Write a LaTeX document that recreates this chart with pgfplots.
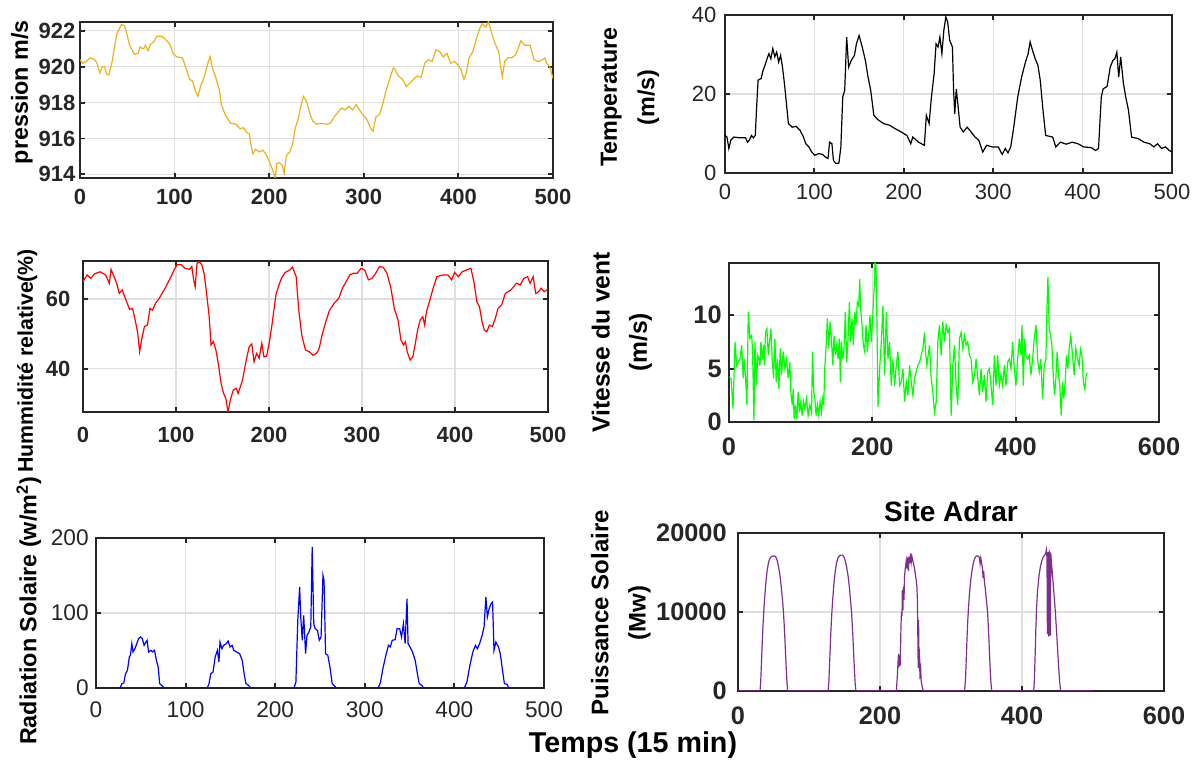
\documentclass[border=0pt]{standalone}
\usepackage{pgfplots}
\pgfplotsset{compat=1.18}
\usepackage{fontspec}
\setmainfont{Liberation Sans}

\definecolor{axc}{RGB}{38,38,38}
\definecolor{gridc}{RGB}{223,223,223}
\definecolor{morange}{RGB}{237,177,32}
\definecolor{mpurple}{RGB}{126,47,142}
\definecolor{mgreen}{RGB}{0,255,0}
\definecolor{mblue}{RGB}{0,0,255}
\definecolor{mred}{RGB}{255,0,0}

\newcommand{\tickfont}{\fontsize{16.5}{18}\selectfont}
\newcommand{\bigtickfont}{\fontsize{19}{21}\selectfont}
\newcommand{\labfont}{\fontsize{17.5}{28}\selectfont\bfseries}

\pgfplotsset{
  mat/.style={
    scale only axis, anchor=south west,
    axis line style={draw=axc, line width=1.4pt},
    grid=major, major grid style={draw=gridc, line width=0.8pt},
    tick align=inside, major tick length=4pt,
    every tick/.style={draw=axc, line width=1.4pt},
    tick label style={font=\tickfont\bfseries, text=axc},
    xticklabel style={yshift=-5pt},
    /pgf/number format/assume math mode=true,
    /pgf/number format/set thousands separator={},
    scaled ticks=false,
    label style={font=\labfont},
    ylabel style={anchor=center, align=center},
    every axis plot/.append style={line width=0.9pt, mark=none},
    enlargelimits=false,
  }
}

\begin{document}
\begin{tikzpicture}
\path[use as bounding box] (0,0) rectangle (900pt,571.5pt);

% pression
\begin{axis}[mat, at={(60pt,438pt)}, width=354.75pt, height=117pt,
  xmin=0, xmax=500, ymin=913.8, ymax=922.5,
  xtick={0,100,...,500}, ytick={914,916,918,920,922},
  ylabel={pression m/s},
  ylabel style={at={(axis description cs:-0.123,0.55)}}]
\addplot[morange] coordinates {(0,920.4)(2.7,920.2)(6.6,920.3)(10.6,920.5)(15.6,920.4)(18,920.2)(21,919.65)(23.5,920.0)(26,920.0)(28,919.6)(30.5,919.55)(34,920.3)(36.8,921.2)(39,921.85)(43.8,922.35)(47,922.3)(49.7,921.8)(52.4,921.2)(57.5,920.7)(61.4,920.75)(63.3,921.1)(67.3,921.0)(69.2,921.2)(72,920.9)(74.3,921.25)(78.2,921.4)(81,921.7)(86.8,921.7)(90.7,921.5)(94.6,921.3)(98.5,920.75)(102.4,920.55)(108.3,920.5)(112.2,919.9)(116,919.3)(118.9,919.2)(122,918.65)(124.7,918.35)(127.9,919.0)(129.8,919.2)(133,919.75)(135.7,920.3)(137.6,920.57)(139.6,920.0)(143.5,919.4)(147.4,918.7)(149.4,917.9)(153.3,917.35)(159.1,916.85)(165,916.8)(169,916.55)(172.8,916.6)(176,916.35)(179,916.25)(180.6,915.7)(182.6,915.15)(185.7,915.4)(189.6,915.25)(193.2,915.35)(196.3,915.15)(199.4,914.8)(202.5,914.4)(204.9,914.05)(206.4,913.8)(208,914.6)(211,914.65)(213.9,914.5)(215.8,914.05)(218.2,915.05)(221.7,915.25)(224.8,915.7)(227.6,916.6)(230.7,917.1)(233.4,917.8)(236.2,918.35)(239.3,918.1)(243.2,917.35)(246.3,916.95)(250.2,916.8)(254.9,916.85)(260.8,916.8)(264.7,916.85)(268.6,917.2)(272.5,917.45)(276.5,917.7)(280.4,917.6)(284.3,917.8)(288.2,917.6)(292.1,917.9)(296,917.55)(299.9,917.25)(303,917.1)(307,916.6)(309.7,916.4)(312.8,917.2)(316.7,917.35)(319.4,917.8)(323.4,918.65)(327.3,919.3)(331.2,919.95)(333.1,919.85)(336.3,919.5)(341,919.3)(344.9,918.9)(348.8,919.1)(352.7,919.3)(356.6,919.5)(360.5,919.4)(364.4,920.2)(368.3,920.4)(372.2,920.3)(376.2,920.95)(380.1,920.85)(384,920.55)(387.9,920.75)(391.8,920.2)(395.7,920.3)(399.6,920.1)(402.7,919.85)(405.9,919.3)(408.2,919.65)(411.3,920.5)(415.3,920.85)(419.2,921.6)(422.3,922.1)(425,922.4)(428.9,922.2)(431.7,922.5)(434.8,921.95)(438.7,921.3)(442.6,920.85)(445,919.9)(446.5,919.45)(448.9,920.3)(452.4,920.5)(456.3,920.5)(460.2,920.65)(463,921.0)(466.1,921.45)(470,921.2)(475.8,921.2)(479.8,920.4)(483.7,920.3)(487.6,920.35)(491.5,920.5)(493.4,920.2)(496.6,920.0)(500,919.35)};
\end{axis}

% temperature
\begin{axis}[mat, at={(543.75pt,441.75pt)}, width=335.25pt, height=118.5pt,
  xmin=0, xmax=500, ymin=0, ymax=40,
  xtick={0,100,...,500}, ytick={0,20,40},
  tick label style={font=\tickfont, text=axc},
  yticklabel style={xshift=-3pt},
  ylabel={Temperature\\(m/s)},
  ylabel style={at={(axis description cs:-0.2125,0.48)}}]
\addplot[black] coordinates {(0,9.5)(2.2,9.1)(4.3,6.2)(6.5,8.3)(10,9.1)(16.5,8.9)(23,8.9)(25.2,7.8)(27.4,8.4)(29.6,9.5)(31.7,8.9)(33.9,9.5)(35.2,15.9)(37,23.5)(40.4,23.9)(42.6,26)(44.8,27.3)(47,28.9)(49.1,30.2)(51.3,28.9)(53.5,31.5)(55.7,29.4)(57.8,30.6)(60,28.1)(62.2,29.8)(64.3,26.8)(66.5,22.6)(68.7,17.6)(70.9,12.5)(75.2,11.6)(79.6,11.8)(83.9,10.8)(87.4,9.3)(90.4,7.4)(93.9,6.6)(97,5.3)(100.4,4.5)(104.8,4.9)(109.1,4.7)(112.2,4.05)(115.2,3.7)(117,7.8)(119.6,7.4)(121.3,3.2)(123.9,2.4)(127.4,2.5)(129.6,6.6)(131.7,19.2)(133.9,20.9)(136.1,34.4)(138.3,26.8)(141.3,28.5)(144.8,29.8)(147,32.7)(150,34.8)(153.5,31.9)(157,28.5)(160,24.3)(163,20.9)(166.5,14.6)(170.9,13.5)(177.4,12.5)(183.9,12.1)(190.4,11.2)(197,10.4)(203.5,9.5)(207.8,7.4)(210,9.1)(216.5,7.8)(223,7.0)(225.2,14.6)(228.3,12.5)(230.9,19.2)(233.9,25.1)(236.1,32.7)(238.3,31.9)(240.4,34.4)(242.6,30.2)(244.8,36.1)(247,39.5)(249.1,38.2)(251.3,33.6)(254.4,31.9)(255.7,20.9)(257,15.0)(258.7,21.3)(260.4,17.6)(263,11.6)(266.5,10.4)(270.9,11.6)(275.2,10.4)(279.6,9.1)(283.9,8.3)(288.3,5.3)(292.6,7.0)(299.1,6.6)(305.7,6.6)(310,4.7)(313.5,6.2)(316.5,5.1)(319.6,6.6)(323,11.6)(327.4,19.2)(331.8,24.3)(336.1,28.1)(339.1,30.2)(341.3,33.2)(343.9,31.1)(347,28.9)(350,27.3)(352.6,23.5)(355.7,15.9)(358.7,9.5)(366.5,9.1)(370,6.6)(375.2,7.8)(381.7,7.3)(388.3,7.8)(394.8,7.4)(401.3,6.6)(410,6.4)(414.4,5.7)(417.8,6.2)(420.9,19.2)(423,21.3)(427.4,21.9)(430.9,26.8)(433.9,28.5)(436.1,28.9)(438.3,30.6)(440.4,24.3)(442.6,29.4)(445.7,22.6)(448.3,19.2)(451.3,15.9)(454.8,9.1)(462.2,8.7)(468.7,7.8)(475.2,7.4)(479.6,6.6)(483.9,7.4)(488.3,6.2)(492.6,6.6)(497,5.7)(500,5.3)};
\end{axis}

% humidite
\begin{axis}[mat, at={(62.25pt,262.5pt)}, width=348.75pt, height=113.25pt,
  xmin=0, xmax=500, ymin=27.6, ymax=70.9,
  xtick={0,100,...,500}, ytick={40,60},
  xticklabel style={yshift=-3pt},
  yticklabel style={xshift=-6pt},
  ylabel={Hummidité relative(\%)},
  ylabel style={font=\fontsize{16}{20}\selectfont\bfseries, at={(axis description cs:-0.12,0.338)}}]
\addplot[mred] coordinates {(0,65)(4.4,66.9)(8.4,65.9)(12.3,67.2)(18.3,67.8)(24.3,66.9)(28.3,64.5)(30.2,68.5)(33.4,66.4)(36.2,64.5)(39,61.6)(42.2,62.6)(46.2,59.7)(50.1,57.0)(53.3,57.3)(56.1,54.0)(58.9,50.1)(60.9,44.9)(63.3,48.7)(66.1,52.1)(69.3,52.5)(72,57.3)(74.8,56.8)(78,58.8)(82,60.2)(86,62.1)(89.2,63.5)(91.9,65)(94.7,66.4)(97.9,68.3)(101.1,69.8)(105.9,69.8)(109.8,68.8)(114.6,68.5)(117,69.3)(119,65.5)(120.6,63.5)(122.6,70.2)(125,70.7)(127.8,69.8)(130.5,66.9)(132.9,61.6)(135.7,54.9)(137.7,46.8)(140.1,47.8)(142.9,45.4)(145.7,41.1)(148.5,35.8)(151.2,32.9)(153.6,31.5)(156,27.6)(158.4,31.0)(161.6,33.9)(164.8,34.4)(166.8,32.9)(171.5,36.7)(175.5,42.5)(178.7,46.3)(181.5,47.1)(183.9,42.0)(186.7,44.4)(189.4,43.0)(192.2,47.3)(194.6,43.4)(197.4,43.6)(200.2,47.3)(203.4,53.0)(207.4,61.1)(210.1,63.5)(213.3,65.9)(217.3,67.6)(222.1,68.3)(225.3,69.1)(229.2,66.4)(232,56.8)(235.2,49.7)(239.2,45.4)(243.2,44.9)(247.2,43.9)(251.1,44.4)(253.9,45.8)(257.1,49.7)(261.1,53.5)(265.1,56.8)(270.2,58.8)(275,60.2)(279,63.1)(283,65)(286.9,66.9)(290.9,67.4)(294.9,67.4)(298.9,68.8)(302.9,68.3)(306.9,65.5)(310.8,65.9)(314.8,67.4)(318.8,69.3)(322.8,69.1)(326.8,67.4)(330.8,63.5)(334.7,57.3)(338.7,54.0)(341.9,48.2)(344.7,46.8)(346.7,47.7)(348.6,44.9)(351.8,42.5)(354.6,43.4)(357.4,47.3)(359.8,51.1)(362.6,54.0)(365.4,54.9)(367.4,52.5)(369.3,56.4)(372.5,59.2)(376.5,63.1)(380.5,66.4)(386.5,66.9)(392.4,66.9)(396.4,65.5)(399.6,67.6)(403.6,66.4)(407.6,67.8)(412.3,68.3)(417.1,68.8)(420.3,65)(423.5,59.2)(426.3,57.8)(429.1,53.5)(431.5,51.1)(434.2,50.6)(437,52.5)(440.2,52.1)(443.4,54.5)(446.2,57.3)(450.2,58.3)(454.1,61.6)(460.1,62.6)(466.1,64.5)(470.1,64)(474,65.9)(478,66.4)(480.8,64.5)(484,66.4)(486.8,61.6)(490,62.1)(492.7,63.1)(495.9,62.1)(500,62.8)};
\end{axis}

% vent
\begin{axis}[mat, at={(546.75pt,255pt)}, width=322.5pt, height=119.25pt,
  xmin=0, xmax=600, ymin=0, ymax=14.9,
  xtick={0,200,400,600}, ytick={0,5,10},
  tick label style={font=\bigtickfont\bfseries},
  xticklabel style={yshift=-3pt},
  yticklabel style={xshift=-2pt},
  ylabel={Vitesse du vent\\(m/s)},
  ylabel style={font=\fontsize{18.5}{28}\selectfont\bfseries, at={(axis description cs:-0.249,0.5)}}]
\addplot[mgreen] coordinates {(0,4.2)(2.8,4.1)(5.6,1.25)(8.4,7.5)(10.7,5.3)(13,5.6)(15.3,5.9)(17.6,7.2)(19.9,4.1)(21.3,5.9)(23.2,4.1)(25,1.6)(26.9,10.3)(29.2,7.8)(31.6,8.1)(32.9,6.6)(34.8,0.15)(36.2,7.5)(38.5,3.4)(39.9,6.25)(41.8,5.9)(43.2,5.3)(44.5,7.5)(46.4,5.9)(48.3,7.2)(49.2,5.3)(51,8.4)(52.9,8.75)(54.8,6.25)(56.6,7.5)(58.5,8.75)(60.3,5.9)(62.2,4.1)(64,7.8)(65.9,3.75)(67.7,5.9)(69.6,3.1)(71.5,6.9)(73.3,4.4)(75.6,6.6)(78,5)(80.3,5.9)(82.6,4.1)(84.9,5.6)(86.3,2.8)(88.2,1.6)(89.6,3.1)(90.9,0.3)(92.8,1.6)(94.7,0.3)(96.5,2.8)(98.4,0.9)(100.2,1.9)(102.1,0.6)(103.9,1.9)(105.8,1.25)(108.1,2.2)(110.4,0.6)(112.8,1.6)(115.1,0.9)(116.5,6.6)(118.3,2.8)(119.7,2.2)(121.6,0.6)(123.4,1.6)(125.3,0.6)(127.1,1.9)(129,0.9)(130.8,2.2)(132.2,1.6)(133.6,5)(135.5,7.2)(137.3,9.7)(139.2,6.9)(141,9.4)(142.9,7.8)(144.8,5.3)(146.6,8.1)(148.5,6.25)(150.3,7.2)(152.2,5.9)(154,7.8)(155.4,3.75)(156.8,7.5)(158.7,5.9)(160.5,6.9)(162.4,10.3)(164.2,5.6)(166.1,7.8)(168,11.25)(169.8,7.5)(171.7,9.7)(173.5,7.2)(175.4,10.3)(177.2,9.1)(179.1,11.25)(181,10.9)(182.4,13.4)(183.7,10.6)(185.6,9.1)(187.5,7.2)(189.3,6.6)(191.2,9.1)(193,6.6)(194.9,8.1)(196.7,10)(198.6,7.5)(200.4,9.7)(202.3,12.2)(203.7,14.9)(205.1,14.7)(206.5,9.1)(207.9,1.4)(210.2,5)(212.5,7.5)(214.8,10.9)(217.1,4.4)(219.5,10.3)(221.8,5.9)(224.1,7.5)(226.4,3.4)(228.7,5.9)(231,3.4)(233.4,5.3)(235.7,6.6)(238,3.4)(240.3,3.75)(242.7,5)(245,1.9)(247.3,3.75)(249.6,2.5)(252,5.3)(254.3,3.75)(256.6,2.5)(258.9,4.1)(261.2,4.7)(263.5,5.3)(265.9,5.6)(268.2,6.25)(270.5,6.9)(272.8,8.4)(274.2,6.6)(276.1,5.3)(277.9,6.25)(279.8,7.2)(282.1,4.1)(284.4,2.8)(286.7,0.9)(289.1,1.9)(291.4,7.5)(293.7,9.1)(296,6.25)(298.3,9.4)(300.7,7.5)(303,9.1)(305.3,8.4)(307.6,8.75)(310,0.6)(312.3,5.3)(314.6,7.2)(316.9,3.4)(319.2,1.6)(321.5,7.8)(323.9,8.4)(326.2,6.9)(328.5,8.1)(330.8,7.2)(333.1,7.5)(335.5,6.25)(337.8,5.9)(340.1,3.75)(342.4,4.4)(344.8,5.9)(347.1,4.1)(349.4,2.5)(351.7,5)(354,2.8)(356.3,4.4)(358.7,1.9)(361,4.7)(363.3,5)(365.6,3.4)(368,1.6)(370.3,6.25)(372.6,3.4)(374.9,6.25)(377.2,3.4)(379.5,4.4)(381.9,3.4)(384.2,5.3)(386.5,3.4)(388.8,5.6)(391.1,5.9)(393.5,5)(395.8,7.5)(398.1,5)(400.4,3.4)(402.7,5.9)(405.1,7.8)(407.4,6.25)(408.8,9.1)(410.6,3.4)(412.5,7.8)(414.3,6.25)(416.7,5.9)(419,6.25)(421.3,4.4)(423.6,5.9)(425.9,7.8)(428.3,9.1)(430.6,5.9)(432.9,4.7)(435.2,5.9)(437.5,2.2)(439.9,5.3)(442.2,5.9)(443.6,10.3)(445,13.6)(446.8,8.75)(448.7,8.1)(450.5,7.2)(452.4,4.4)(454.2,2.5)(456.1,4.1)(457.9,6.6)(459.8,4.4)(461.7,3.4)(463.5,0.6)(465.4,3.75)(467.2,2.2)(469.1,3.75)(470.9,6.25)(472.8,5)(474.7,6.9)(477,8.1)(479.3,6.25)(481.6,4.4)(483.9,6.9)(486.3,5.9)(488.6,5.3)(490.5,6.8)(492.5,6.2)(494.5,3.7)(496.5,3.1)(498.5,4.4)(500,4.6)};
\end{axis}

% radiation
\begin{axis}[mat, at={(72pt,55.5pt)}, width=336pt, height=112.5pt,
  xmin=0, xmax=500, ymin=0, ymax=200,
  xtick={0,100,...,500}, ytick={0,100,200},
  tick label style={font=\fontsize{17}{19}\selectfont, text=axc},
  xticklabel style={yshift=-2pt},
  yticklabel style={xshift=-2pt},
  ylabel={Radiation Solaire (w/m\textsuperscript{2})},
  ylabel style={at={(axis description cs:-0.15,0.513)}}]
\addplot[mblue] coordinates {(0,0)(26.9,0)(28.9,5.8)(31,6.7)(33,19.1)(35.1,23.6)(37.2,41.3)(38.4,43.6)(40,59.1)(41.3,48)(43.4,52.4)(45.5,59.1)(47.5,65.8)(49.6,68)(51.7,65.8)(53.7,56.9)(55.8,61.3)(57,63.6)(58.7,48)(61.2,50.2)(63.2,48)(65.3,50.2)(67.4,36.9)(69.4,28)(71.1,5.8)(73.1,3.6)(75.2,1.3)(76.9,0)(124,0)(126,4.9)(128.1,19.1)(130.6,21.3)(133,41.3)(135.5,50.2)(137.2,34.7)(138.4,61.3)(140.5,52.4)(142.5,56.9)(145.4,59.1)(147.5,62.7)(149.6,54.7)(152,56.9)(153.7,50.2)(157,48)(160.3,45.8)(163.2,36.9)(165.3,19.1)(167.3,5.8)(170.2,3.6)(172.7,0)(221,0)(223.1,8)(225.2,90.2)(227.3,134.7)(228.5,94.7)(230.2,63.6)(231.8,96.9)(233.9,45.8)(235.5,70.2)(237.6,74.7)(239.7,81.3)(241.3,188)(243,85.8)(244.6,79.1)(247.1,76.9)(249.2,63.6)(251.2,68)(253.3,150.2)(254.5,143.6)(256.2,45.8)(258.7,43.6)(261.1,28)(263.6,5.8)(266.5,2.2)(268.6,0)(314.9,0)(317.3,6.7)(320.2,25.8)(323.5,43.6)(326.4,56.9)(328.5,54.7)(330.6,63.6)(333.9,64.4)(336,79.1)(338.9,79.1)(341,68)(343.1,85.8)(345,59.1)(347.1,119.1)(348.3,59.1)(350.4,54.7)(353.3,48)(356.2,36.9)(358.7,19.1)(360.7,5.8)(363.6,3.6)(365.7,0)(411.1,0)(414,8)(417.3,30.2)(420.6,48)(423.5,56.9)(425.6,52.4)(428.1,59.1)(431,70.2)(433.1,81.3)(435.1,121.3)(436.8,94.7)(438.8,105.8)(440.9,112.4)(442.6,114.7)(444.2,50.2)(446.3,61.3)(449.2,54.7)(451.2,45.8)(453.7,23.6)(455.8,5.8)(458.7,4.9)(460.7,0)(500,0)};
\end{axis}

% puissance
\begin{axis}[mat, at={(553.5pt,53.25pt)}, width=319.5pt, height=118.5pt,
  xmin=0, xmax=600, ymin=0, ymax=20000,
  xtick={0,200,400,600}, ytick={0,10000,20000},
  tick label style={font=\bigtickfont\bfseries},
  xticklabel style={yshift=-3pt},
  yticklabel style={xshift=-5pt},
  ylabel={Puissance Solaire\\(Mw)},
  ylabel style={font=\fontsize{18}{28}\selectfont\bfseries, at={(axis description cs:-0.275,0.494)}},
  title={Site Adrar},
  title style={font=\fontsize{21}{23}\selectfont\bfseries, at={(0.5,1)}, anchor=base, yshift=2.5pt}]
\addplot[mpurple] coordinates {(0,0)(31,0)(32,1200)(33,3500)(34,5800)(35,7900)(36,9600)(37,11100)(39,13500)(41,15200)(43,16300)(45,16800)(47,17000)(49,17100)(51,17100)(53,17000)(55,16600)(57,15800)(59,14700)(61,13100)(63,11200)(64,10000)(65,8500)(66,6700)(67,4700)(68,2800)(69,1100)(70,0)(127,0)(128,1200)(129,3500)(130,5800)(131,7900)(132,9600)(133,11100)(135,13500)(137,15200)(139,16300)(141,16900)(143,17100)(145,17200)(147,17200)(149,17000)(151,16500)(153,15700)(155,14600)(157,13000)(159,11000)(160,9900)(161,8300)(162,6500)(163,4500)(164,2600)(165,1000)(166,0)(223,0)(224.5,2000)(226,4700)(226.5,3000)(227.5,4500)(228.5,3200)(229.5,8000)(230.2,10000)(231,9500)(231.5,12800)(232.3,10200)(233,13200)(233.8,11500)(234.5,14500)(236,15800)(237,16500)(238,15500)(239,16900)(240,15200)(241,17000)(242,16200)(243,17400)(244,16300)(245,17000)(246.5,16400)(248,15800)(249.5,15000)(251,14000)(252,13200)(252.8,11200)(253.3,7000)(253.8,2900)(254.3,9000)(255,4000)(255.6,5300)(256.3,1500)(257,3500)(258,1300)(259.5,500)(261,0)(319,0)(320.5,1500)(321.5,4000)(322.5,6500)(323.5,8700)(324.5,10300)(326,12300)(328,14200)(330,15500)(332,16400)(334,16900)(336,17100)(338,17100)(340,16900)(341,16100)(342,16800)(343.5,16000)(344.5,15400)(345.2,14300)(346,15200)(347,13900)(348.5,12800)(350,11400)(351.5,10000)(352.5,8300)(353.5,6300)(354.5,4200)(355.5,2200)(356.5,800)(357.5,0)(416.5,0)(417.5,1500)(418.5,4500)(419.5,7800)(420.5,10500)(422,12800)(424,14600)(426,15800)(428,16500)(430,17000)(432,17200)(433.5,17500)(434.5,17900)(435.2,16800)(435.8,7200)(436.4,16500)(437,17600)(437.6,6900)(438.2,7200)(438.8,17500)(439.4,17300)(440,7000)(440.5,17500)(441.2,16500)(442.5,15200)(444,13500)(445.5,11800)(447,10000)(448.5,7800)(450,5500)(451.5,3200)(453,1200)(454.5,0)(500,0)};
\end{axis}

\node[font=\fontsize{21.5}{23}\selectfont\bfseries, text=black, anchor=base] at (474.75pt,6.75pt) {Temps (15 min)};
\end{tikzpicture}
\end{document}
